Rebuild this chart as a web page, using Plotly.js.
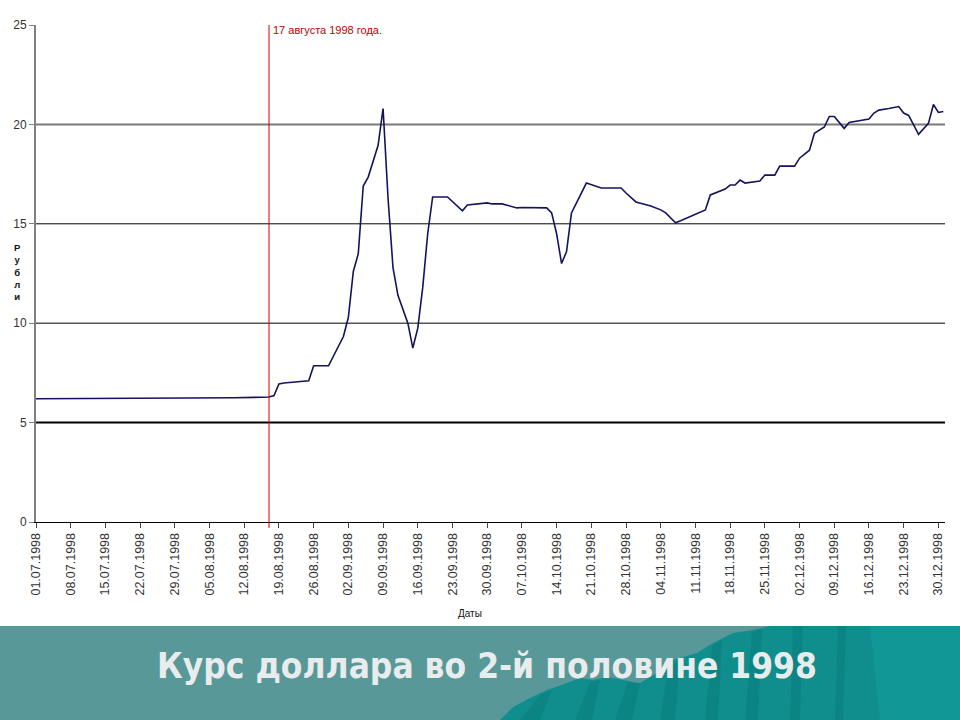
<!DOCTYPE html>
<html>
<head>
<meta charset="utf-8">
<script src="https://cdn.plot.ly/plotly-3.0.1.min.js"></script>
<style>
html,body{margin:0;padding:0;background:#fff;}
#chart{width:960px;height:720px;}
</style>
</head>
<body>
<div id="chart"></div>
<script>
// Exchange rate RUB per USD, 2nd half of 1998
const dates = [
  '1998-07-01','1998-07-15','1998-07-28','1998-08-10','1998-08-14','1998-08-17','1998-08-18','1998-08-19','1998-08-20','1998-08-24','1998-08-25',
  '1998-08-26','1998-08-29','1998-09-01','1998-09-02','1998-09-03','1998-09-04','1998-09-05','1998-09-06','1998-09-08','1998-09-09',
  '1998-09-10','1998-09-11','1998-09-12','1998-09-14','1998-09-15','1998-09-16','1998-09-17','1998-09-18','1998-09-19','1998-09-22',
  '1998-09-25','1998-09-26','1998-09-30','1998-10-01','1998-10-03','1998-10-06','1998-10-07','1998-10-12','1998-10-13','1998-10-14',
  '1998-10-15','1998-10-16','1998-10-17','1998-10-20','1998-10-23','1998-10-27','1998-10-28','1998-10-30','1998-11-02','1998-11-04',
  '1998-11-05','1998-11-07','1998-11-08','1998-11-12','1998-11-13','1998-11-14','1998-11-17','1998-11-18','1998-11-19','1998-11-20',
  '1998-11-21','1998-11-24','1998-11-25','1998-11-27','1998-11-28','1998-12-01','1998-12-02','1998-12-04','1998-12-05','1998-12-07',
  '1998-12-08','1998-12-09','1998-12-10','1998-12-11','1998-12-12','1998-12-14','1998-12-16','1998-12-17','1998-12-18','1998-12-20',
  '1998-12-22','1998-12-23','1998-12-24','1998-12-26','1998-12-28','1998-12-29','1998-12-30','1998-12-31'
];
const rates = [
  6.20,6.21,6.22,6.25,6.27,6.29,6.36,6.94,6.99,7.05,7.10,
  7.86,7.86,9.33,10.3,12.6,13.5,16.9,17.35,18.95,20.8,
  16.3,12.8,11.4,10.0,8.75,9.75,11.8,14.5,16.35,16.35,
  15.65,15.95,16.05,16.0,16.0,15.8,15.82,15.8,15.55,14.5,
  13.0,13.6,15.55,17.05,16.8,16.8,16.55,16.1,15.9,15.7,
  15.55,15.05,15.15,15.6,15.7,16.45,16.75,16.95,16.95,17.2,
  17.05,17.15,17.45,17.45,17.9,17.9,18.3,18.7,19.55,19.87,
  20.4,20.4,20.1,19.8,20.1,20.17,20.27,20.57,20.72,20.8,
  20.9,20.57,20.45,19.5,20.05,21.0,20.6,20.65
];
const eventDate = '1998-08-17';
const eventLabel = '17 августа 1998 года.';
const gridValues = [5, 10, 15, 20];
const gridColors = ['#000000', '#555555', '#000000', '#7a7a7a'];
const gridWidths = [2, 1.5, 1, 2];
const yTitleLetters = ['Р','у','б','л','и'];
const xTitle = 'Даты';
const bannerTitle = 'Курс доллара во 2-й половине 1998';

// layout geometry (plot area 36..945 x 25..522)
const L = 36, R = 945, T = 25, B = 522;
const W = 960, H = 720;
const px = x => (x - L) / (R - L);
const py = y => (B - y) / (B - T);
const poly = pts => 'M ' + pts.map(p => px(p[0]) + ' ' + py(p[1])).join(' L ') + ' Z';

const shapes = [];
// banner background
shapes.push({type:'rect', xref:'paper', yref:'paper', x0:px(0), x1:px(W), y0:py(H), y1:py(626),
  fillcolor:'#589898', line:{width:0}, layer:'above'});
// mountain decoration
const mnt = [[500,720],[513,707],[530,698],[547,690],[567,683],[580,678],[593,680],[607,677],[623,680],[640,683],[657,673],[673,660],[697,653],[713,643],[733,633],[753,630],[770,626],[960,626],[960,720]];
shapes.push({type:'path', xref:'paper', yref:'paper', path:poly(mnt), fillcolor:'#108e8e', line:{width:0}, layer:'above'});
// darker streaks
const streaks = [
  [[520,720],[540,695],[552,690],[540,720]],
  [[575,720],[590,682],[600,680],[592,720]],
  [[615,720],[628,682],[640,684],[632,720]],
  [[660,720],[668,668],[680,660],[675,720]],
  [[705,720],[712,646],[722,640],[718,720]],
  [[745,720],[752,632],[762,629],[758,720]],
  [[790,720],[793,626],[803,626],[800,720]],
  [[835,720],[838,626],[846,626],[843,720]]
];
streaks.forEach(s => shapes.push({type:'path', xref:'paper', yref:'paper', path:poly(s), fillcolor:'#0a7c7c', line:{width:0}, layer:'above', opacity:0.55}));
shapes.push({type:'path', xref:'paper', yref:'paper', path:poly([[870,626],[960,626],[960,720],[880,720]]), fillcolor:'#14a0a0', line:{width:0}, layer:'above', opacity:0.5});

// horizontal grid lines
gridValues.forEach((v, i) => {
  shapes.push({type:'line', xref:'paper', yref:'y', x0:0, x1:1, y0:v, y1:v,
    line:{color:gridColors[i], width:gridWidths[i]}, layer:'below'});
});
// event line
shapes.push({type:'line', xref:'x', yref:'paper', x0:eventDate, x1:eventDate, y0:-0.012, y1:1,
  line:{color:'#d40000', width:1}, layer:'above'});

const annotations = [
  {xref:'x', yref:'paper', x:eventDate, y:py(30), text:eventLabel, showarrow:false,
   xanchor:'left', yanchor:'middle', xshift:2, font:{family:'Liberation Sans, Arial', size:11, color:'#c00000'}},
  {xref:'paper', yref:'paper', x:px(17), y:py(272), text:'<b>' + yTitleLetters.join('<br>') + '</b>', showarrow:false,
   xanchor:'center', yanchor:'middle', align:'center', font:{family:'Liberation Sans, Arial', size:9.5, color:'#111'}},
  {xref:'paper', yref:'paper', x:px(470), y:py(614), text:xTitle, showarrow:false,
   xanchor:'center', yanchor:'middle', font:{family:'Liberation Sans, Arial', size:10, color:'#111'}},
  {xref:'paper', yref:'paper', x:px(487), y:py(666), text:'<b>' + bannerTitle + '</b>', showarrow:false,
   xanchor:'center', yanchor:'middle', font:{family:'DejaVu Sans Condensed, DejaVu Sans', size:35, color:'#e8ecec'}}
];

const trace = {
  type:'scatter', mode:'lines', x:dates, y:rates,
  line:{color:'#14145c', width:1.6}, hoverinfo:'x+y'
};

const layout = {
  width:W, height:H,
  margin:{l:L, r:W-R, t:T, b:H-B, pad:0},
  paper_bgcolor:'#ffffff', plot_bgcolor:'#ffffff',
  showlegend:false,
  xaxis:{
    type:'date', range:['1998-07-01', '1998-12-31 08:00'],
    tick0:'1998-07-01', dtick:7*86400000, tickformat:'%d.%m.%Y',
    tickangle:-90, showgrid:false, zeroline:false,
    showline:true, linecolor:'#000', linewidth:1,
    ticks:'outside', ticklen:5, tickcolor:'#444', tickwidth:1,
    tickfont:{family:'Liberation Sans, Arial', size:12.5, color:'#333'}
  },
  yaxis:{
    range:[0,25], dtick:5, tick0:0, showgrid:false, zeroline:false,
    showline:true, linecolor:'#808080', linewidth:2,
    ticks:'outside', ticklen:5, tickcolor:'#808080',
    tickfont:{family:'Liberation Sans, Arial', size:12, color:'#333'}
  },
  shapes:shapes,
  annotations:annotations
};

Plotly.newPlot('chart', [trace], layout, {displayModeBar:false, staticPlot:true});
</script>
</body>
</html>
